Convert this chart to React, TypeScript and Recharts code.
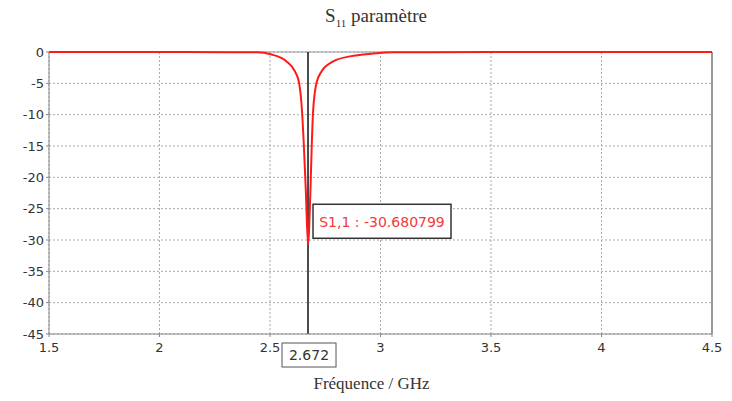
import { LineChart, Line, XAxis, YAxis, CartesianGrid, ReferenceLine, ReferenceDot, Label } from 'recharts'

// frequency (GHz) and S11 (dB)
const freqs = [1.5, 2.0, 2.3, 2.44, 2.507, 2.575, 2.613, 2.632, 2.645, 2.653, 2.662, 2.672, 2.683, 2.689, 2.695, 2.71, 2.733, 2.786, 2.862, 2.967, 3.06, 3.5, 4.0, 4.5]
const s11 = [0, -0.01, -0.02, -0.05, -0.4, -1.5, -3.1, -5, -9.5, -14.8, -22, -30.680799, -22, -14.8, -9.5, -5, -3.1, -1.5, -0.7, -0.25, -0.05, -0.01, 0, 0]

const xTicks = [1.5, 2, 2.5, 3, 3.5, 4, 4.5]
const yTicks = [0, -5, -10, -15, -20, -25, -30, -35, -40, -45]

const markerFreq = 2.672
const markerValue = -30.680799
const markerLabel = 'S1,1 : -30.680799'

const data = freqs.map((f, i) => ({ f, s11: s11[i] }))

const tickStyle = { fill: '#333', fontSize: 13, fontFamily: 'DejaVu Sans' }

function FreqBox(props: any) {
    const { cx, cy } = props
    return (
        <g>
            <rect x={cx - 26} y={cy + 9} width={54} height={24} fill="#fff" stroke="#555" strokeWidth={1} />
            <text x={cx + 1} y={cy + 26} textAnchor="middle" fontSize={14} fontFamily="DejaVu Sans" fill="#333">{markerFreq}</text>
        </g>
    )
}

function ValueBox(props: any) {
    const { cx, cy } = props
    return (
        <g>
            <rect x={cx + 5} y={cy - 40} width={138} height={34} fill="#fff" stroke="#333" strokeWidth={1.5} />
            <text x={cx + 74} y={cy - 17} textAnchor="middle" fontSize={14} fontFamily="DejaVu Sans" fill="#f23a3a">{markerLabel}</text>
        </g>
    )
}

export default function App() {
    return (
        <div style={{ position: 'absolute', left: 0, top: 0, width: 732, height: 401, background: '#fff' }}>
            <div style={{ position: 'absolute', left: 0, width: 752, top: 5, textAlign: 'center', fontFamily: 'Liberation Serif', fontSize: 19, color: '#333' }}>
                S<sub style={{ fontSize: 11 }}>11</sub> paramètre
            </div>
            <LineChart width={732} height={401} data={data} margin={{ top: 52, right: 20, left: 0, bottom: 37 }}>
                <CartesianGrid strokeDasharray="2 2" stroke="#aaa" />
                <XAxis
                    dataKey="f"
                    type="number"
                    domain={[1.5, 4.5]}
                    ticks={xTicks}
                    height={30}
                    stroke="#888"
                    tickSize={3}
                    tick={tickStyle}
                    dy={4}
                    interval={0}
                >
                    <Label value="Fréquence / GHz" position="insideBottom" offset={-25} dx={-9} style={{ fill: '#333', fontSize: 17, fontFamily: 'Liberation Serif' }} />
                </XAxis>
                <YAxis
                    type="number"
                    domain={[-45, 0]}
                    ticks={yTicks}
                    width={49}
                    stroke="#888"
                    tickSize={3}
                    tick={tickStyle}
                    interval={0}
                />
                <ReferenceLine y={0} stroke="#999" />
                <ReferenceLine x={4.5} stroke="#999" strokeWidth={2} />
                <ReferenceLine x={markerFreq} stroke="#111" strokeWidth={1.5} />
                <Line
                    dataKey="s11"
                    type="monotone"
                    stroke="#ff1a1a"
                    strokeWidth={2}
                    dot={false}
                    isAnimationActive={false}
                />
                <ReferenceDot x={markerFreq} y={-45} r={0} shape={FreqBox} />
                <ReferenceDot x={markerFreq} y={markerValue} r={0} shape={ValueBox} />
            </LineChart>
        </div>
    )
}
